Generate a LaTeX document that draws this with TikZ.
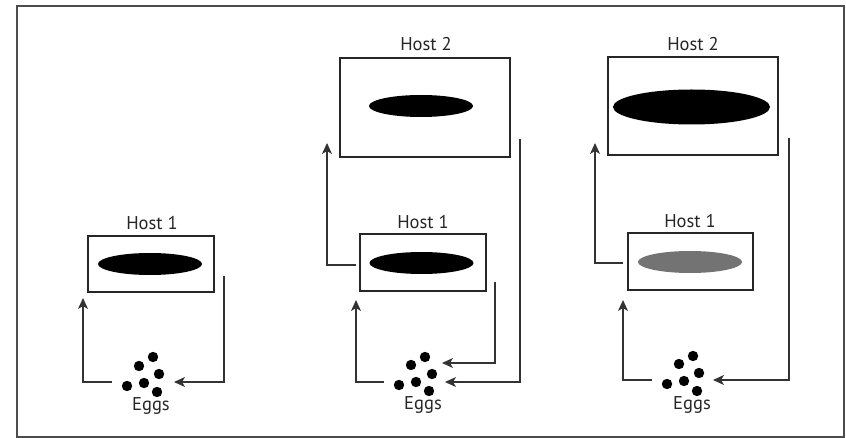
\documentclass[tikz,border=0pt]{standalone}
\usepackage{fontspec}
\setmainfont{PT Sans}
\usetikzlibrary{arrows.meta,shapes.geometric}
\begin{document}
\begin{tikzpicture}[x=1pt,y=-1pt,
  line join=miter,
  frame/.style={draw=black!70,line width=1.4pt},
  hostbox/.style={draw=black!85,line width=1.3pt,rectangle,inner sep=0pt},
  worm/.style={ellipse,fill=black,draw=none,inner sep=0pt,minimum width=104pt,minimum height=22pt},
  label/.style={font=\fontsize{18.5}{21}\selectfont,text=black!85,inner sep=0pt},
  conn/.style={draw=black!80,line width=1.2pt},
  arr/.style={conn,-{Stealth[length=11pt,width=10pt,inset=3pt]}},
  egg/.style={fill=black}
]
\useasboundingbox (0,0) rectangle (846,438);
\draw[frame] (17,437) -- (17,6) -- (844,6) -- (844,437) -- cycle;

% ---------- panel 1 ----------
\node[hostbox,minimum width=126pt,minimum height=56pt] (h1a) at (151,264) {};
\node[worm] (w1a) at (150,264) {};
\node[label] (l1a) at (152,223) {Host 1};
\foreach \dx/\dy in {0/0,-14/9,6/17,-9/26,-26/29,4/35} \fill[egg] (153+\dx,357+\dy) circle (5.2);
\node[label] (e1) at (151,406) {Eggs};
\coordinate (p1r0) at (224,276);
\coordinate (p1r1) at (224,382);
\coordinate (p1rt) at (174,382);
\coordinate (p1l0) at (112,382);
\coordinate (p1l1) at (83,382);
\coordinate (p1lt) at (83,298);
\draw[arr] (p1r0) -- (p1r1) -- (p1rt);
\draw[arr] (p1l0) -- (p1l1) -- (p1lt);

% ---------- panel 2 ----------
\node[hostbox,minimum width=126pt,minimum height=57pt] (h1b) at (423,262.5) {};
\node[worm] (w1b) at (421.5,263) {};
\node[label] (l1b) at (423,222) {Host 1};
\node[hostbox,minimum width=170pt,minimum height=99pt] (h2b) at (425,107.5) {};
\node[worm] (w2b) at (421,106) {};
\node[label] (l2b) at (426,44) {Host 2};
\foreach \dx/\dy in {0/0,-14/8,7/17,-9/25,-26/28,4/34} \fill[egg] (425+\dx,357+\dy) circle (5.2);
\node[label] (e2) at (423,405) {Eggs};
\coordinate (p2a0) at (356,265);
\coordinate (p2a1) at (327,265);
\coordinate (p2at) at (327,143);
\coordinate (p2b0) at (495,282);
\coordinate (p2b1) at (495,363);
\coordinate (p2bt) at (442,363);
\coordinate (p2c0) at (520,139);
\coordinate (p2c1) at (520,382);
\coordinate (p2ct) at (445,382);
\coordinate (p2d0) at (384,382);
\coordinate (p2d1) at (356,382);
\coordinate (p2dt) at (356,300);
\draw[arr] (p2a0) -- (p2a1) -- (p2at);
\draw[arr] (p2b0) -- (p2b1) -- (p2bt);
\draw[arr] (p2c0) -- (p2c1) -- (p2ct);
\draw[arr] (p2d0) -- (p2d1) -- (p2dt);

% ---------- panel 3 ----------
\node[hostbox,minimum width=125pt,minimum height=57pt] (h1c) at (690.5,261.5) {};
\node[worm,fill=black!55] (w1c) at (690,262) {};
\node[label] (l1c) at (690,221) {Host 1};
\node[hostbox,minimum width=170pt,minimum height=98pt] (h2c) at (693,106) {};
\node[worm,minimum width=157pt,minimum height=35pt] (w2c) at (691.5,107) {};
\node[label] (l2c) at (693,44) {Host 2};
\foreach \dx/\dy in {0/0,-14/8,6/17,-9/25,-26/28,4/35} \fill[egg] (693+\dx,356+\dy) circle (5.2);
\node[label] (e3) at (692,405) {Eggs};
\coordinate (p3a0) at (623,263);
\coordinate (p3a1) at (595,263);
\coordinate (p3at) at (595,143);
\coordinate (p3c0) at (789,138);
\coordinate (p3c1) at (789,380);
\coordinate (p3ct) at (713,380);
\coordinate (p3d0) at (652,380);
\coordinate (p3d1) at (623,380);
\coordinate (p3dt) at (623,300);
\draw[arr] (p3a0) -- (p3a1) -- (p3at);
\draw[arr] (p3c0) -- (p3c1) -- (p3ct);
\draw[arr] (p3d0) -- (p3d1) -- (p3dt);
\end{tikzpicture}
\end{document}
